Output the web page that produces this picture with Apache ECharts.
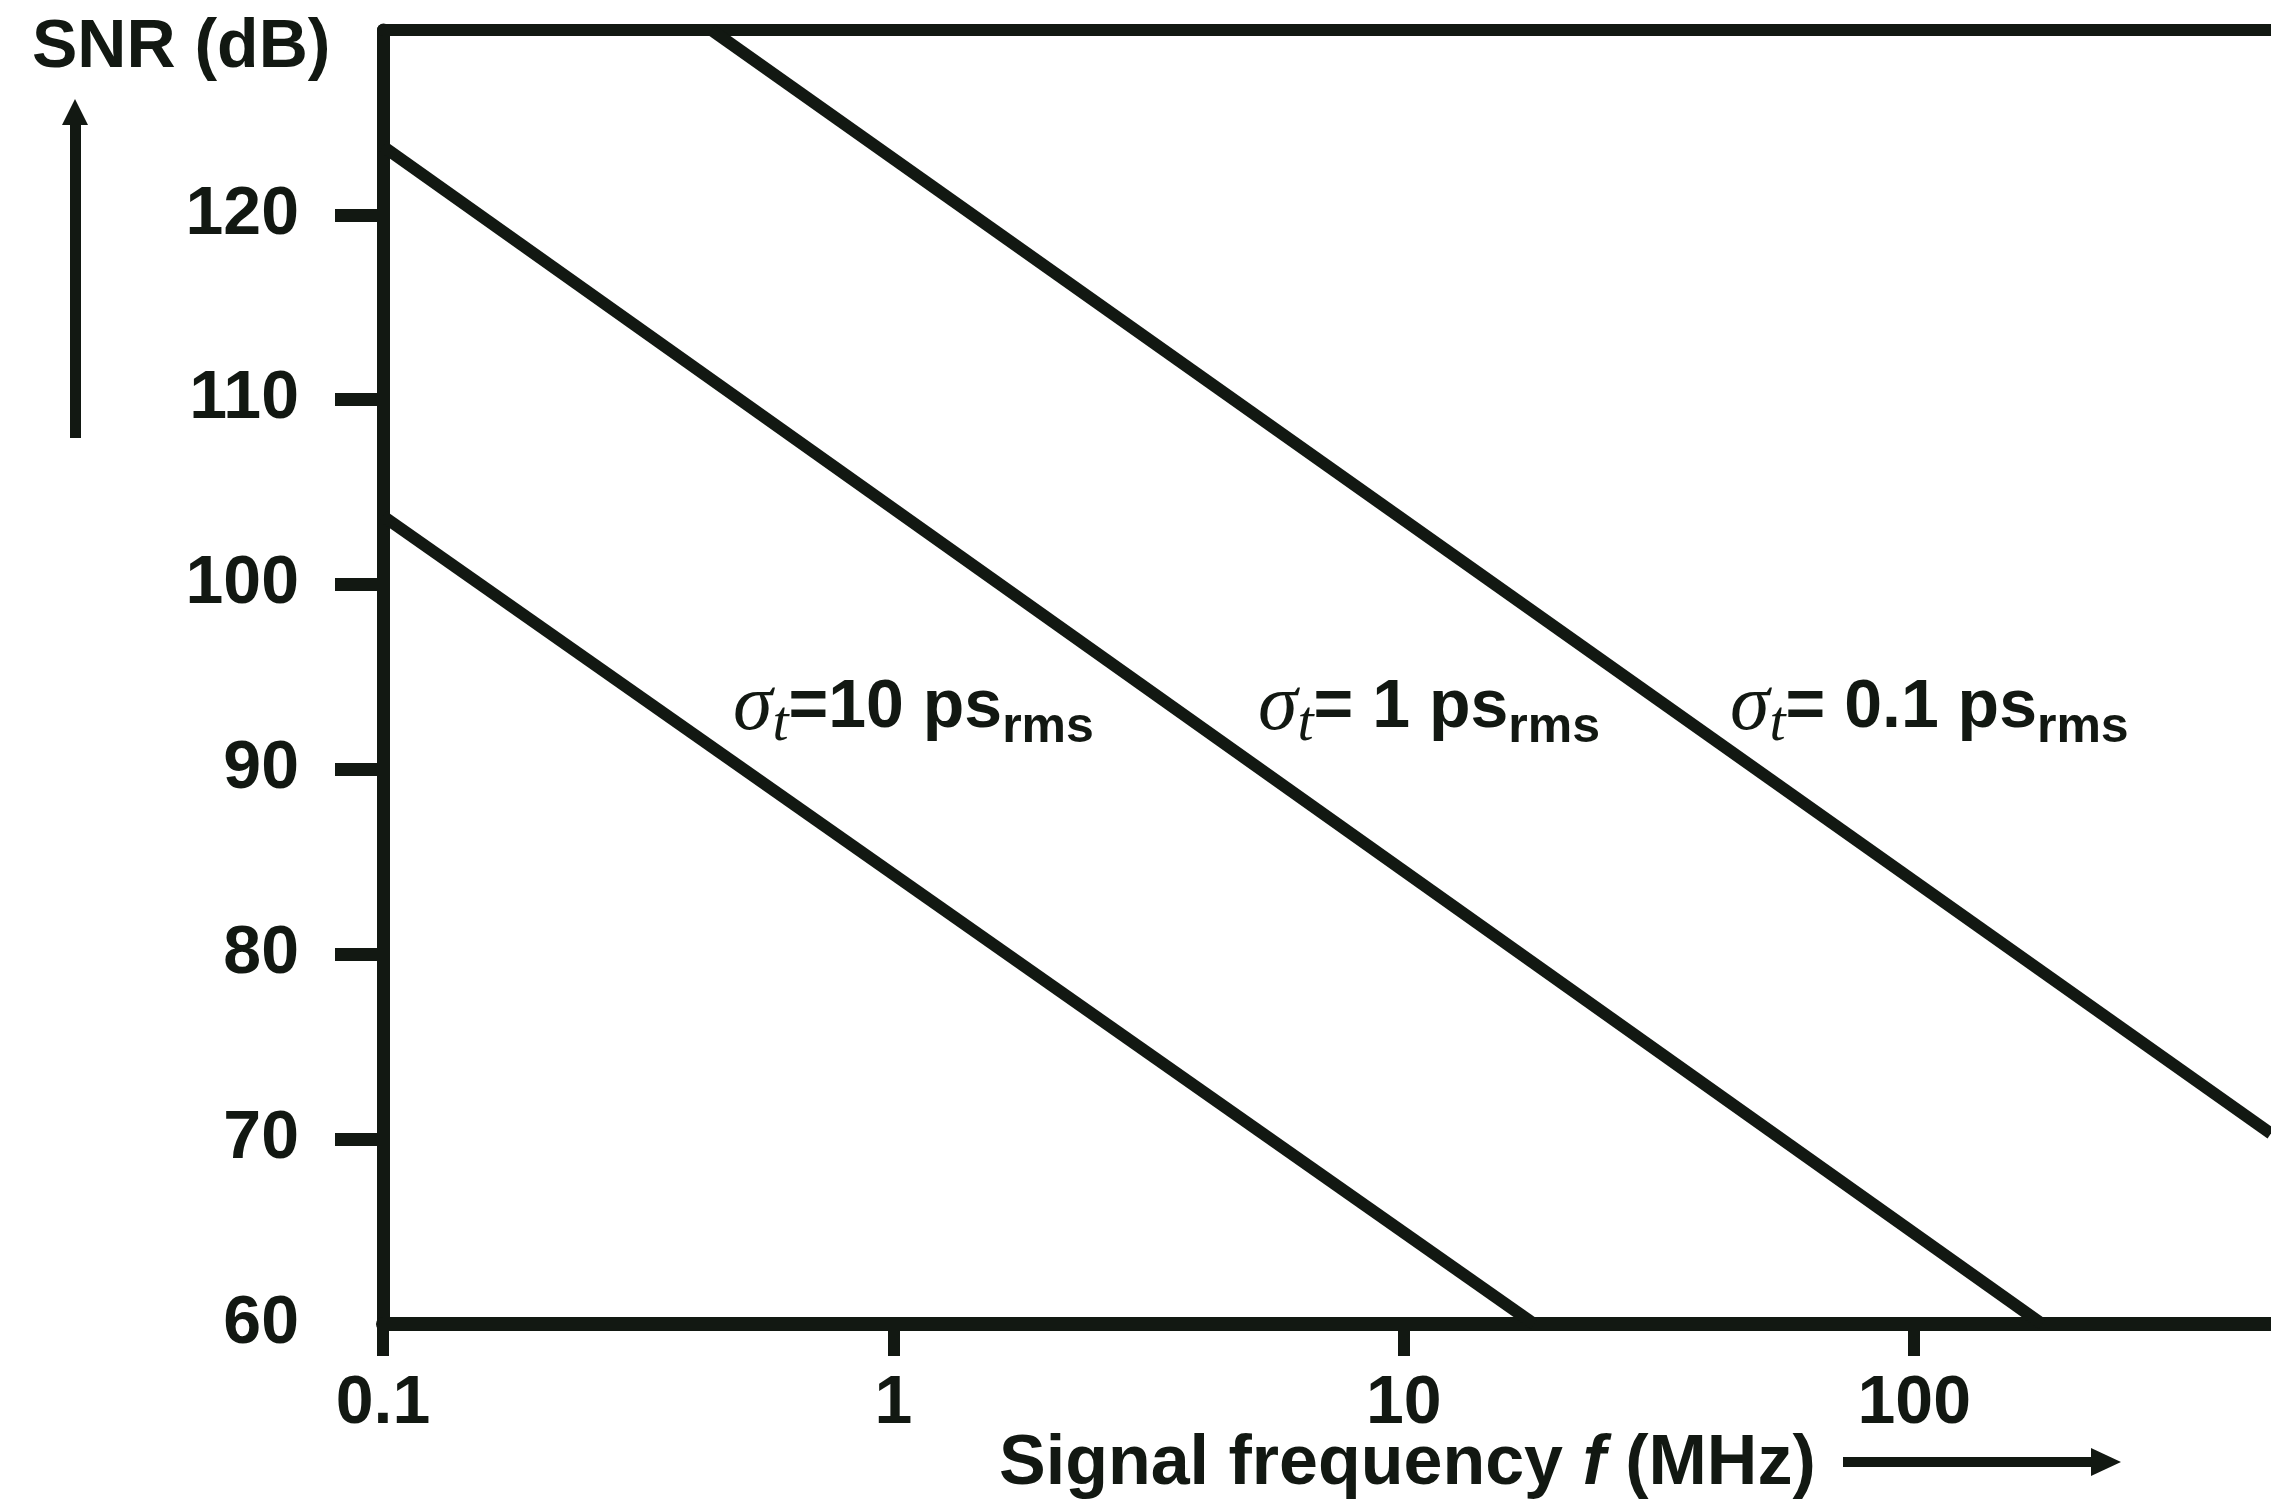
<!DOCTYPE html>
<html>
<head>
<meta charset="utf-8">
<script src="https://cdn.jsdelivr.net/npm/echarts@6/dist/echarts.min.js"></script>
<style>
  html, body { margin: 0; padding: 0; background: #fff; }
  #main { width: 2271px; height: 1507px; }
</style>
</head>
<body>
<div id="main"></div>
<script>
// values (frequency in MHz, SNR in dB)
var freq10ps = [0.1, 18.0];
var snr10ps = [103.7, 60];
var freq1ps = [0.1, 178];
var snr1ps = [123.7, 60];
var freq01ps = [0.44, 500];
var snr01ps = [130, 70.3];

var xTicks = [0.1, 1, 10, 100];
var yTicks = [70, 80, 90, 100, 110, 120, 130];
var curveNames = ['=10 ps', '= 1 ps', '= 0.1 ps'];

var ink = '#121812';
var sans = 'Liberation Sans, Arial, sans-serif';

function pairs(xs, ys) {
  return xs.map(function (x, i) { return [x, ys[i]]; });
}

function sigmaLabel(txt, x, y) {
  return {
    type: 'text',
    left: x,
    top: y,
    style: {
      text: '{s|σ}{t|t}{m|' + txt + '}{r|rms}',
      fill: ink,
      rich: {
        s: { fontFamily: 'Liberation Serif, serif', fontStyle: 'italic', fontSize: 80, fill: ink },
        t: { fontFamily: 'Liberation Serif, serif', fontStyle: 'italic', fontSize: 58, fill: ink, padding: [34, 0, 0, 0] },
        m: { fontFamily: sans, fontWeight: 'bold', fontSize: 68, fill: ink },
        r: { fontFamily: sans, fontWeight: 'bold', fontSize: 50, fill: ink, padding: [40, 0, 0, 0] }
      }
    }
  };
}

var chart = echarts.init(document.getElementById('main'), null, { renderer: 'canvas' });

var option = {
  backgroundColor: '#ffffff',
  animation: false,
  grid: { left: 383, right: 0, top: 30, bottom: 183, containLabel: false },
  xAxis: [{
    type: 'log',
    logBase: 10,
    min: 0.1,
    max: 500,
    position: 'bottom',
    splitLine: { show: false },
    minorTick: { show: false },
    axisLine: { lineStyle: { color: ink, width: 14 } },
    axisTick: { length: 32, lineStyle: { color: ink, width: 12 }, customValues: xTicks },
    axisLabel: {
      customValues: xTicks,
      margin: 46,
      fontFamily: sans, fontWeight: 'bold', fontSize: 68, color: ink,
      formatter: function (v) { return String(+(+v).toPrecision(3)); }
    }
  }, {
    // plain top border
    type: 'log',
    logBase: 10,
    min: 0.1,
    max: 500,
    position: 'top',
    splitLine: { show: false },
    axisLine: { lineStyle: { color: ink, width: 12 } },
    axisTick: { show: false },
    axisLabel: { show: false }
  }],
  yAxis: {
    type: 'value',
    min: 60,
    max: 130,
    interval: 10,
    splitLine: { show: false },
    axisLine: { lineStyle: { color: ink, width: 13 } },
    axisTick: { length: 48, lineStyle: { color: ink, width: 13 }, customValues: yTicks },
    axisLabel: {
      showMaxLabel: false,
      margin: 84,
      fontFamily: sans, fontWeight: 'bold', fontSize: 68, color: ink
    }
  },
  series: [
    { type: 'line', name: curveNames[0], data: pairs(freq10ps, snr10ps), showSymbol: false, symbol: 'none', lineStyle: { color: ink, width: 12 } },
    { type: 'line', name: curveNames[1], data: pairs(freq1ps, snr1ps), showSymbol: false, symbol: 'none', lineStyle: { color: ink, width: 12 } },
    { type: 'line', name: curveNames[2], data: pairs(freq01ps, snr01ps), showSymbol: false, symbol: 'none', lineStyle: { color: ink, width: 12 } }
  ],
  graphic: [
    // y axis title + arrow
    { type: 'text', left: 32, top: 14, style: { text: 'SNR (dB)', fontFamily: sans, fontWeight: 'bold', fontSize: 68, fill: ink } },
    { type: 'rect', shape: { x: 70, y: 120, width: 11, height: 318 }, style: { fill: ink } },
    { type: 'polygon', shape: { points: [[75, 99], [62, 125], [88, 125]] }, style: { fill: ink } },
    // x axis title + arrow
    {
      type: 'text', left: 999, top: 1430,
      style: {
        text: '{a|Signal frequency }{f|f}{a| (MHz)}',
        rich: {
          a: { fontFamily: sans, fontWeight: 'bold', fontSize: 70, fill: ink },
          f: { fontFamily: sans, fontWeight: 'bold', fontStyle: 'italic', fontSize: 70, fill: ink }
        }
      }
    },
    { type: 'rect', shape: { x: 1843, y: 1457, width: 252, height: 10 }, style: { fill: ink } },
    { type: 'polygon', shape: { points: [[2121, 1462], [2091, 1448], [2091, 1476]] }, style: { fill: ink } },
    // curve labels
    sigmaLabel(curveNames[0], 733, 668),
    sigmaLabel(curveNames[1], 1258, 668),
    sigmaLabel(curveNames[2], 1730, 668)
  ]
};

chart.setOption(option);
</script>
</body>
</html>
